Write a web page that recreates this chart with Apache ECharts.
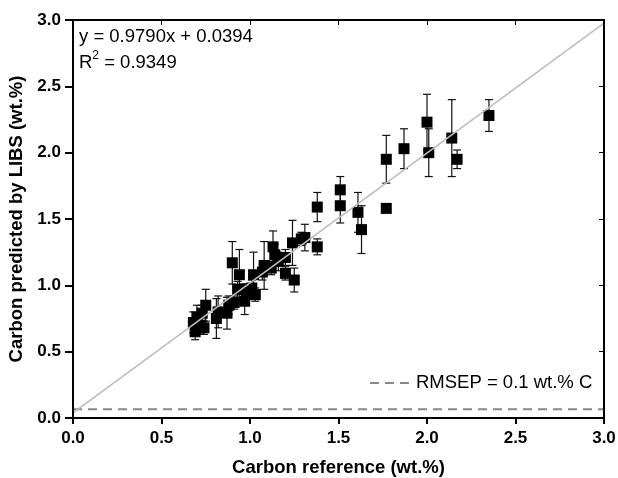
<!DOCTYPE html>
<html>
<head>
<meta charset="utf-8">
<script src="https://cdn.jsdelivr.net/npm/echarts@6/dist/echarts.min.js"></script>
<style>
  html, body { margin: 0; padding: 0; background: #fff; }
  #chart { width: 618px; height: 478px; }
</style>
</head>
<body>
<div id="chart"></div>
<script>
// carbon reference (wt.%)
var refC = [0.68, 0.69, 0.70, 0.72, 0.73, 0.75, 0.74, 0.81, 0.82, 0.87,
            0.88, 0.91, 0.90, 0.94, 0.93, 0.97, 0.98, 1.02, 1.01, 1.03,
            1.08, 1.07, 1.13, 1.14, 1.16, 1.20, 1.20, 1.25, 1.24, 1.29,
            1.31, 1.38, 1.38, 1.51, 1.51, 1.61, 1.63, 1.77, 1.77, 1.87,
            2.00, 2.01, 2.14, 2.17, 2.35, 0.96, 1.12];
// carbon predicted by LIBS (wt.%)
var predC = [0.72, 0.65, 0.76, 0.70, 0.79, 0.85, 0.68, 0.75, 0.80, 0.79,
             0.85, 0.87, 1.17, 1.08, 0.97, 0.88, 0.96, 1.08, 0.98, 0.93,
             1.15, 1.10, 1.29, 1.23, 1.18, 1.21, 1.09, 1.04, 1.32, 1.35,
             1.36, 1.29, 1.59, 1.72, 1.60, 1.55, 1.42, 1.58, 1.95, 2.03,
             2.23, 2.00, 2.11, 1.95, 2.28, 0.97, 1.13];
// error bar half-widths
var errC = [0.08, 0.06, 0.09, 0.06, 0.06, 0.12, 0.05, 0.15, 0.12, 0.12,
            0.07, 0.05, 0.16, 0.19, 0.06, 0.10, 0.05, 0.17, 0.06, 0.05,
            0.18, 0.06, 0.12, 0.08, 0.07, 0.06, 0.05, 0.09, 0.17, 0.05,
            0.10, 0.06, 0.11, 0.10, 0.13, 0.15, 0.18, 0.00, 0.18, 0.15,
            0.21, 0.18, 0.29, 0.07, 0.12, 0.04, 0.05];

// fit line
var slope = 0.9790, intercept = 0.0394;
var fitX = [0, 3];
var rmsepLevel = 0.066;

var points = [], bars = [];
for (var i = 0; i < refC.length; i++) {
  points.push([refC[i], predC[i]]);
  bars.push([refC[i], predC[i] - errC[i], predC[i] + errC[i]]);
}
var fitLine = fitX.map(function (x) { return [x, slope * x + intercept]; });

var font = 'Arial, "Liberation Sans", sans-serif';
var myChart = echarts.init(document.getElementById('chart'));

// top / right mirror axes only carry inward ticks
function frameAxis(extra) {
  var base = {
    type: 'value', min: 0, max: 3, interval: 0.5, z: 20,
    axisLine: { show: true, onZero: false, lineStyle: { color: '#000', width: 2 } },
    axisTick: { show: true, inside: true, length: 5, lineStyle: { color: '#000', width: 1 } },
    axisLabel: { show: false },
    splitLine: { show: false }
  };
  return Object.assign(base, extra);
}

var option = {
  animation: false,
  grid: {
    left: 73, right: 14, top: 20, bottom: 60,
    outerBoundsMode: 'none', containLabel: false,
    show: true, borderColor: '#000', borderWidth: 2
  },
  graphic: [{
    type: 'text', left: 79, top: 24,
    style: {
      text: 'y = 0.9790x + 0.0394\n{r|R}{s|2}{r| = 0.9349}',
      font: '18.5px ' + font, fill: '#000', lineHeight: 26,
      rich: {
        r: { fontSize: 18.5, fontFamily: font, lineHeight: 26 },
        s: { fontSize: 12, fontFamily: font, verticalAlign: 'top', padding: [0, 0, 9, 0] }
      }
    }
  }, {
    type: 'line', z: 10,
    shape: { x1: 370, y1: 383, x2: 411, y2: 383 },
    style: { stroke: '#888', lineWidth: 2, lineDash: [9, 6] }
  }, {
    type: 'text', left: 416, top: 373, z: 10,
    style: { text: 'RMSEP = 0.1 wt.% C', font: '18.5px ' + font, fill: '#000' }
  }],
  xAxis: [frameAxis({
    position: 'bottom',
    name: 'Carbon reference (wt.%)', nameLocation: 'middle', nameGap: 40,
    nameTextStyle: { fontFamily: font, fontSize: 18.5, fontWeight: 'bold', color: '#000' },
    axisTick: { show: true, inside: false, length: 6, lineStyle: { color: '#000', width: 2 } },
    axisLabel: { show: true, fontFamily: font, fontSize: 17, fontWeight: 'bold', color: '#000', margin: 12,
      formatter: function (v) { return v.toFixed(1); } }
  }), frameAxis({ position: 'top' })],
  yAxis: [frameAxis({
    position: 'left',
    name: 'Carbon predicted by LIBS (wt.%)', nameLocation: 'middle', nameGap: 46,
    nameTextStyle: { fontFamily: font, fontSize: 18.5, fontWeight: 'bold', color: '#000' },
    axisTick: { show: true, inside: false, length: 8, lineStyle: { color: '#000', width: 2 } },
    axisLabel: { show: true, fontFamily: font, fontSize: 17, fontWeight: 'bold', color: '#000', margin: 12,
      formatter: function (v) { return v.toFixed(1); } }
  }), frameAxis({ position: 'right' })],
  series: [{
    name: 'RMSEP = 0.1 wt.% C',
    type: 'line',
    data: [[0, rmsepLevel], [3, rmsepLevel]],
    symbol: 'none',
    lineStyle: { color: '#888', width: 2, type: [9, 6] },
    z: 1
  }, {
    name: 'fit',
    type: 'line',
    data: fitLine,
    symbol: 'none',
    lineStyle: { color: '#bdbdbd', width: 1.6 },
    z: 5
  }, {
    name: 'err',
    type: 'custom',
    data: bars,
    renderItem: function (params, api) {
      var x = api.value(0);
      var lo = api.coord([x, api.value(1)]);
      var hi = api.coord([x, api.value(2)]);
      var cap = 4;
      var st = { stroke: '#111', lineWidth: 1.2 };
      return {
        type: 'group',
        children: [
          { type: 'line', shape: { x1: lo[0], y1: lo[1], x2: hi[0], y2: hi[1] }, style: st },
          { type: 'line', shape: { x1: lo[0] - cap, y1: lo[1], x2: lo[0] + cap, y2: lo[1] }, style: st },
          { type: 'line', shape: { x1: hi[0] - cap, y1: hi[1], x2: hi[0] + cap, y2: hi[1] }, style: st }
        ]
      };
    },
    z: 2
  }, {
    name: 'points',
    type: 'scatter',
    data: points,
    symbol: 'rect',
    symbolSize: 11,
    itemStyle: { color: '#000', opacity: 1 },
    z: 3
  }]
};
myChart.setOption(option);
window.addEventListener('resize', myChart.resize);
</script>
</body>
</html>
